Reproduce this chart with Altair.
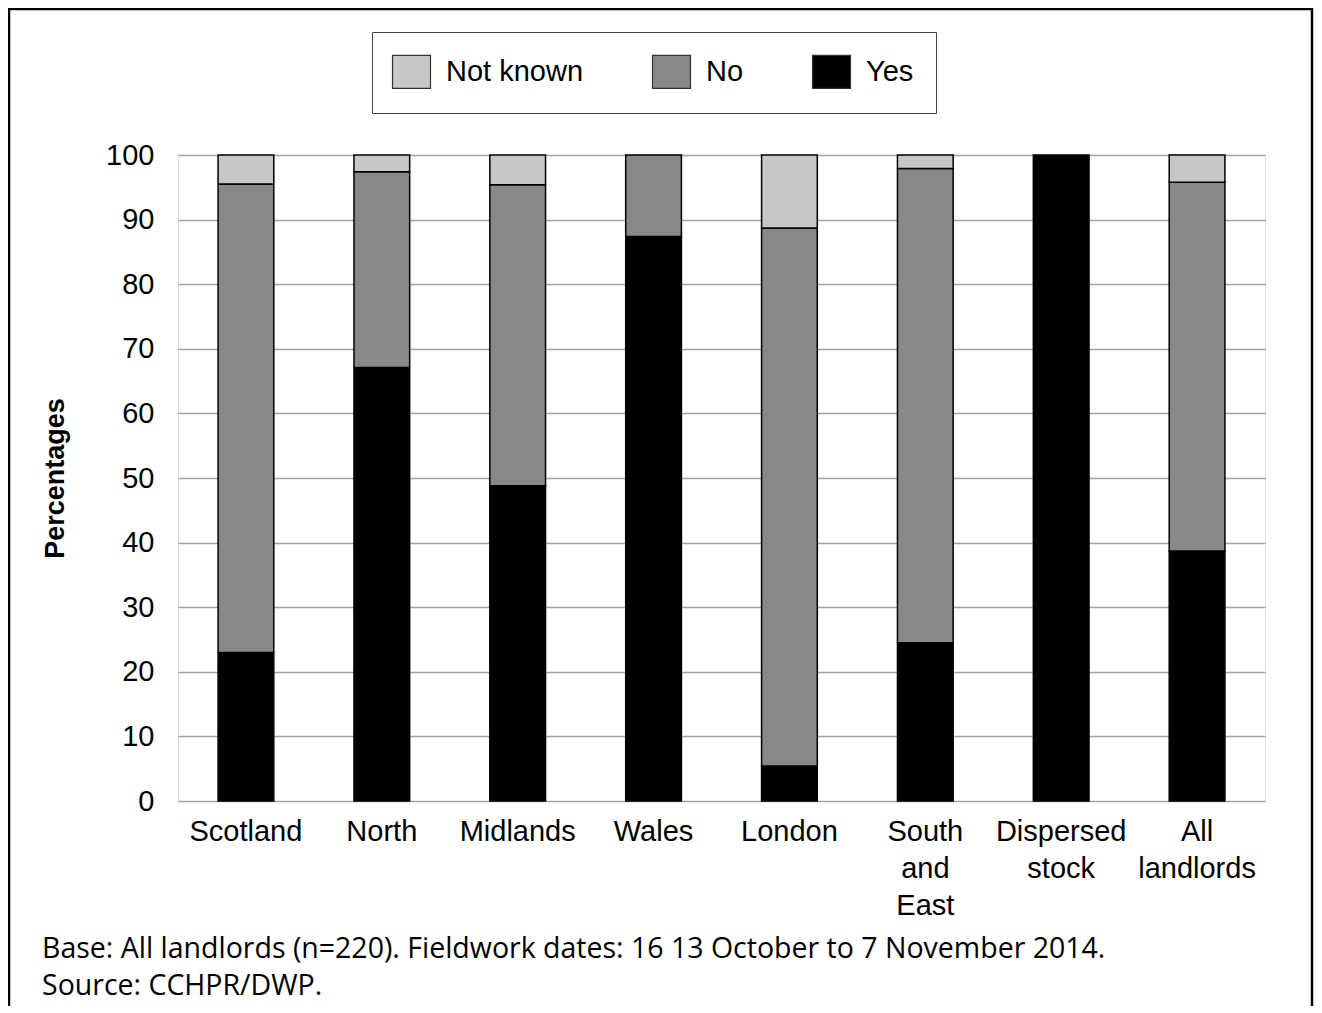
import altair as alt
import pandas as pd

categories = ["Scotland", "North", "Midlands", "Wales", "London", "South and East", "Dispersed stock", "All landlords"]
yes_vals = [23.0, 67.1, 48.8, 87.4, 5.4, 24.5, 100.0, 38.7]
no_vals = [72.5, 30.3, 46.6, 12.6, 83.3, 73.4, 0.0, 57.1]
notknown_vals = [4.5, 2.6, 4.6, 0.0, 11.3, 2.1, 0.0, 4.2]

responses = ["Not known", "No", "Yes"]
resp_colors = ["#c6c7c9", "#87888a", "#000000"]
stack_rank = {"Yes": 0, "No": 1, "Not known": 2}
y_ticks = list(range(0, 101, 10))

footnote = [
    "Base: All landlords (n=220). Fieldwork dates: 16 13 October to 7 November 2014.",
    "Source: CCHPR/DWP.",
]

rows = []
for i, c in enumerate(categories):
    for r, vals in (("Yes", yes_vals), ("No", no_vals), ("Not known", notknown_vals)):
        if vals[i] > 0:
            rows.append({"category": c, "response": r, "value": vals[i], "rank": stack_rank[r]})
df = pd.DataFrame(rows)

FONT = "Liberation Sans"

bars = alt.Chart(df).mark_bar(stroke="#000000", strokeWidth=1.5).encode(
    x=alt.X(
        "category:N",
        sort=categories,
        scale=alt.Scale(paddingInner=0.59, paddingOuter=0.295),
        axis=alt.Axis(
            title=None,
            labelAngle=0,
            labelExpr="split(datum.label, ' ')",
            labelFont=FONT,
            labelFontSize=29,
            labelColor="#000000",
            labelLineHeight=37,
            labelPadding=16,
            ticks=False,
            domain=False,
            grid=False,
        ),
    ),
    y=alt.Y(
        "value:Q",
        stack="zero",
        scale=alt.Scale(domain=[0, 100], nice=False),
        axis=alt.Axis(
            values=y_ticks,
            title="Percentages",
            titleFont=FONT,
            titleFontSize=27,
            titleFontWeight="bold",
            titleColor="#000000",
            titleAngle=270,
            titleX=-123,
            titleY=323,
            titleAlign="center",
            titleBaseline="middle",
            labelFont=FONT,
            labelFontSize=29,
            labelColor="#000000",
            labelPadding=24,
            ticks=False,
            domain=False,
            grid=True,
            gridColor="#a3a3a3",
            gridWidth=1.5,
        ),
    ),
    color=alt.Color(
        "response:N",
        scale=alt.Scale(domain=responses, range=resp_colors),
        legend=alt.Legend(
            title=None,
            orient="none",
            legendX=194,
            legendY=-123,
            direction="horizontal",
            columns=3,
            columnPadding=66,
            padding=22,
            strokeColor="#444444",
            fillColor="#ffffff",
            symbolType="M-1.15,-1H1.15V1H-1.15Z",
            symbolSize=1089,
            symbolStrokeColor="#333333",
            symbolStrokeWidth=1.2,
            symbolOpacity=1,
            labelFont=FONT,
            labelFontSize=29,
            labelColor="#000000",
            labelOffset=17,
            labelLimit=400,
        ),
    ),
    order=alt.Order("rank:Q", sort="ascending"),
)

blank = alt.Data(values=[{"k": 1}])
frame_left = alt.Chart(blank).mark_rule(color="#000000", strokeWidth=2.5).encode(
    x=alt.value(-169), y=alt.value(-146), y2=alt.value(860)
)
frame_top = alt.Chart(blank).mark_rule(color="#000000", strokeWidth=2.5).encode(
    x=alt.value(-170), x2=alt.value(1135), y=alt.value(-146)
)
frame_right = alt.Chart(blank).mark_rule(color="#000000", strokeWidth=2.5).encode(
    x=alt.value(1134), y=alt.value(-146), y2=alt.value(860)
)

note_style = dict(font="Open Sans", fontSize=28.5, color="#000000", align="left", baseline="middle")
note1 = alt.Chart(blank).mark_text(**note_style).encode(
    x=alt.value(-136), y=alt.value(794), text=alt.value(footnote[0])
)
note2 = alt.Chart(blank).mark_text(**note_style).encode(
    x=alt.value(-136), y=alt.value(831), text=alt.value(footnote[1])
)

chart = alt.layer(frame_left, frame_top, frame_right, note1, note2, bars).properties(
    width=1087,
    height=646,
    autosize=alt.AutoSizeParams(type="none"),
    padding={"left": 170, "top": 147, "right": 49, "bottom": 205},
).configure_view(
    stroke="#333333", strokeWidth=1.5
).configure(background="#ffffff")

chart.save("out.html", embed_options={"renderer": "svg", "actions": False})
